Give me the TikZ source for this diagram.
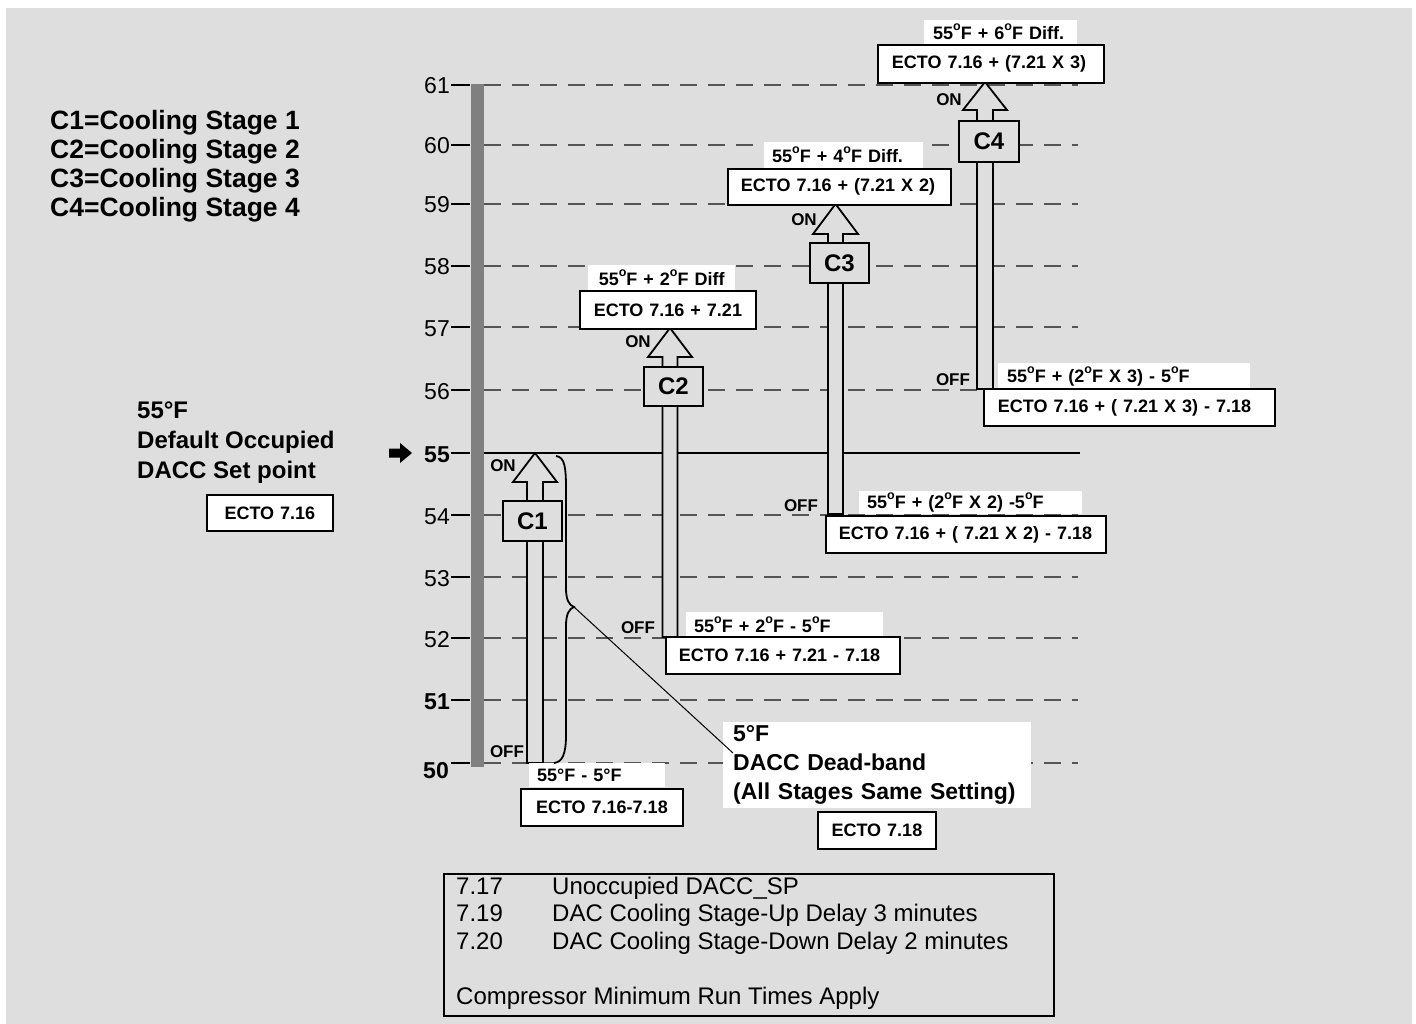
\documentclass[tikz,border=0pt]{standalone}
\usepackage{fontspec}
\setmainfont{Liberation Sans}
\definecolor{bg}{RGB}{222,222,222}
\definecolor{barg}{RGB}{128,128,128}
\definecolor{dashg}{RGB}{85,85,85}
\newcommand\degsup{\raisebox{0.5em}{\fontsize{12.5}{12.5}\selectfont o}}
\newcommand\labbox[8]{%
  \pgfmathsetmacro\bxw{#5-#3-2*#7}%
  \pgfmathsetmacro\bxh{#6-#4}%
  \node[#2, anchor=north west, text width=\bxw pt, inner xsep=#7pt, inner ysep=0pt, minimum height=\bxh pt] (#1) at (#3,#4) {#8};}
\newcommand\stagearrow[6]{%
  \draw[arrowbody] (#1-#4,#6) -- (#1-#4,#3) -- (#1-#5,#3) -- (#1,#2) -- (#1+#5,#3) -- (#1+#4,#3) -- (#1+#4,#6) -- cycle;}
\tikzset{
  ebox/.style={draw=black, line width=1.8pt, fill=white, font=\bfseries\fontsize{18}{21}\selectfont},
  wlab/.style={fill=white, font=\bfseries\fontsize{18}{21}\selectfont},
  stagebox/.style={draw=black, line width=1.8pt, fill=bg, font=\bfseries\fontsize{24}{28}\selectfont, inner sep=0pt, anchor=north west},
  arrowbody/.style={draw=black, fill=bg, line width=1.8pt, line join=miter},
  dashline/.style={draw=dashg, line width=1.3pt, dash pattern=on 17pt off 11pt},
  onoff/.style={font=\bfseries\fontsize{17}{20}\selectfont, inner sep=0pt},
  ticklab/.style={font=\fontsize{23}{26}\selectfont, inner sep=0pt, anchor=base east},
  bracestyle/.style={draw=black, line width=1.8pt},
}
\begin{document}
\begin{tikzpicture}[x=1pt,y=-1pt]
\useasboundingbox (0,0) rectangle (1416,1024);
\fill[white] (0,0) rectangle (1416,1024);
\fill[bg] (6,8) rectangle (1412,1024);

% legend
\node[anchor=north west, inner sep=0pt, align=left, font=\bfseries\fontsize{26.5}{29}\selectfont] (legend) at (50,110)
  {C1=Cooling Stage 1\\C2=Cooling Stage 2\\C3=Cooling Stage 3\\C4=Cooling Stage 4};

% setpoint text
\node[anchor=north west, inner sep=0pt, align=left, font=\bfseries\fontsize{24}{30}\selectfont] (setpt) at (137,401.5)
  {55°F\\Default Occupied\\DACC Set point};
\labbox{ectoA}{ebox, align=center}{206}{494}{332}{530}{0}{ECTO 7.16}

% grey bar
\fill[barg] (471,84) rectangle (484,767);

% levels
\foreach \t/\yy in {61/85,60/145,59/204,58/266,57/327,56/390,54/515,53/577,52/638,51/700,50/763}{
  \draw[dashline] (484,\yy) -- (1078,\yy);
}
\draw[black, line width=2.2pt] (484,453) -- (1080,453);
\foreach \t/\yy in {61/85,60/145,59/204,58/266,57/327,56/390,55/453,54/515,53/577,52/638,51/700}{
  \draw[black, line width=2pt] (451,\yy) -- (470,\yy);
  \ifnum\t=55
    \node[ticklab, font=\bfseries\fontsize{23}{26}\selectfont] (lab\t) at (450,\yy+9) {\t};
  \else\ifnum\t=51
    \node[ticklab, font=\bfseries\fontsize{23}{26}\selectfont] (lab\t) at (450,\yy+9) {\t};
  \else
    \node[ticklab] (lab\t) at (450,\yy+9) {\t};
  \fi\fi
}
\draw[black, line width=2pt] (451,763) -- (470,763);
\node[ticklab, font=\bfseries\fontsize{23}{26}\selectfont] (lab50) at (449,778) {50};

% setpoint arrow
\fill[black] (389,448.5) -- (400,448.5) -- (400,443) -- (412,453) -- (400,463) -- (400,457.5) -- (389,457.5) -- cycle;

% stage arrows
\stagearrow{535}{453}{482}{8}{22}{763}
\stagearrow{670}{328}{357}{7.5}{22}{637}
\stagearrow{835.5}{204}{234}{7.5}{22.5}{514}
\stagearrow{985}{82}{110}{8}{22}{389}

\node[stagebox, minimum width=59pt, minimum height=40pt] (c1) at (502,500) {C1};
\node[stagebox, minimum width=59pt, minimum height=39pt] (c2) at (643,366) {C2};
\node[stagebox, minimum width=59pt, minimum height=40pt] (c3) at (809,242) {C3};
\node[stagebox, minimum width=60pt, minimum height=41pt] (c4) at (958,120) {C4};

% ON / OFF
\node[onoff] (on1) at (503,466) {ON};
\node[onoff] (off1) at (507,752) {OFF};
\node[onoff] (on2) at (638,342) {ON};
\node[onoff] (off2) at (638,628) {OFF};
\node[onoff] (on3) at (804,220) {ON};
\node[onoff] (off3) at (801,506) {OFF};
\node[onoff] (on4) at (949,100) {ON};
\node[onoff] (off4) at (953,380) {OFF};

% C1 labels
\labbox{l1off}{wlab, align=left}{529}{763}{665}{787}{8}{55°F - 5°F}
\labbox{e1off}{ebox, align=center}{520}{788}{682}{825}{0}{ECTO 7.16-7.18}
% C2 labels
\labbox{l2on}{wlab, align=center}{588}{265}{735}{290}{0}{55\degsup F + 2\degsup F Diff}
\labbox{e2on}{ebox, align=center}{579}{290}{755}{328}{0}{ECTO 7.16 + 7.21}
\labbox{l2off}{wlab, align=left}{686}{612}{883}{637}{8}{55\degsup F + 2\degsup F - 5\degsup F}
\labbox{e2off}{ebox, align=left}{665}{636}{899}{673}{13}{ECTO 7.16 + 7.21 - 7.18}
% C3 labels
\labbox{l3on}{wlab, align=left}{764}{142}{923}{168}{8}{55\degsup F + 4\degsup F Diff.}
\labbox{e3on}{ebox, align=left}{727}{168}{950}{204}{13}{ECTO 7.16 + (7.21 X 2)}
\labbox{l3off}{wlab, align=left}{859}{491}{1082}{514}{8}{55\degsup F + (2\degsup F X 2) -5\degsup F}
\labbox{e3off}{ebox, align=left}{825}{515}{1105}{552}{13}{ECTO 7.16 + ( 7.21 X 2) - 7.18}
% C4 labels
\labbox{l4on}{wlab, align=left}{924}{20}{1077}{44}{9}{55\degsup F + 6\degsup F Diff.}
\labbox{e4on}{ebox, align=left}{877}{44}{1103}{82}{14}{ECTO 7.16 + (7.21 X 3)}
\labbox{l4off}{wlab, align=left}{998}{363}{1250}{389}{9}{55\degsup F + (2\degsup F X 3) - 5\degsup F}
\labbox{e4off}{ebox, align=left}{983}{388}{1274}{425}{14}{ECTO 7.16 + ( 7.21 X 3) - 7.18}

% dead band
\node[fill=white, anchor=north west, inner xsep=10pt, inner ysep=3.5pt, text width=288pt, align=left,
      font=\bfseries\fontsize{23}{29}\selectfont] (dband) at (723,722)
  {5°F\\DACC Dead-band\\(All Stages Same Setting)};
\labbox{ectoB}{ebox, align=center}{817}{811}{935}{848}{0}{ECTO 7.18}

% brace and leader
\coordinate (bracetip) at (574,607);
\coordinate (dbend) at (733,753);
\draw[bracestyle] (556,456) .. controls (565,457) and (566,468) .. (566,490) -- (566,588)
  .. controls (566,600) and (569,605) .. (bracetip)
  .. controls (569,609) and (566,614) .. (566,626) -- (566,735)
  .. controls (566,755) and (562,762) .. (554,763);
\draw[black, line width=1pt] (bracetip) -- (dbend);

% notes box
\node[draw=black, line width=1.5pt, anchor=north west, inner sep=0pt, minimum width=610pt, minimum height=142pt] (notes) at (443,873) {};
\node[anchor=north west, inner sep=0pt, align=left, font=\fontsize{24}{27.5}\selectfont] (notestext) at (456,876.8)
  {\makebox[96pt][l]{7.17}Unoccupied DACC\_SP\\
   \makebox[96pt][l]{7.19}DAC Cooling Stage-Up Delay 3 minutes\\
   \makebox[96pt][l]{7.20}DAC Cooling Stage-Down Delay 2 minutes\\[27.5pt]
   Compressor Minimum Run Times Apply};
\end{tikzpicture}
\end{document}
